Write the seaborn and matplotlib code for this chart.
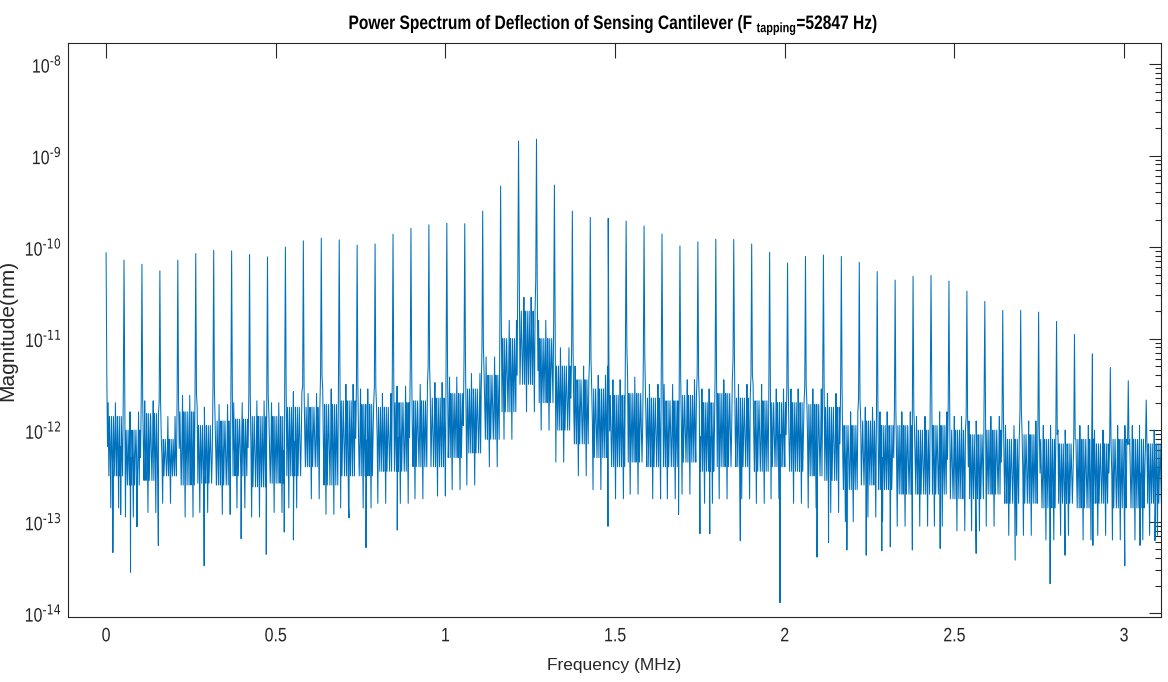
import numpy as np
import pandas as pd
import matplotlib
matplotlib.use("Agg")
import matplotlib.pyplot as plt
import seaborn as sns
from matplotlib.patheffects import AbstractPathEffect
from matplotlib.transforms import Affine2D
from matplotlib.ticker import FuncFormatter

# tapping frequency (MHz), harmonics k * f_tap
f_tap = 0.052847

# peak height of each harmonic k = 0..58 (nm)
peak_mag = [8.7e-11, 7.2e-11, 6.5e-11, 5.5e-11, 7.2e-11, 8.5e-11, 9.2e-11, 9.1e-11, 8.3e-11, 7.8e-11,
            1.0e-10, 1.17e-10, 1.25e-10, 1.2e-10, 1.05e-10, 1.08e-10, 1.38e-10, 1.6e-10, 1.75e-10, 1.82e-10,
            1.8e-10, 2.47e-10, 4.65e-10, 1.44e-9, 1.51e-9, 4.76e-10, 2.47e-10, 2.11e-10, 2.06e-10, 1.92e-10,
            1.7e-10, 1.39e-10, 1.03e-10, 1.14e-10, 1.22e-10, 1.21e-10, 1.08e-10, 8.8e-11, 6.7e-11, 7.9e-11,
            8.2e-11, 7.9e-11, 6.8e-11, 5.4e-11, 4.36e-11, 4.8e-11, 4.9e-11, 4.25e-11, 3.3e-11, 2.55e-11,
            2.03e-11, 2.03e-11, 1.95e-11, 1.54e-11, 1.11e-11, 6.8e-12, 4.84e-12, 3.46e-12, 2.13e-12]

# level at the foot of each harmonic peak
skirt_mag = [3.9e-12, 2.5e-12, 2.2e-12, 2.0e-12, 2.2e-12, 2.5e-12, 2.8e-12, 2.6e-12, 2.4e-12, 2.4e-12,
             3.0e-12, 3.0e-12, 4.0e-12, 4.0e-12, 3.0e-12, 3.0e-12, 4.0e-12, 4.5e-12, 5.0e-12, 5.0e-12,
             6.0e-12, 8.0e-12, 1.5e-11, 5.0e-11, 4.5e-11, 1.6e-11, 8.0e-12, 6.0e-12, 5.0e-12, 8.0e-12,
             6.5e-12, 4.5e-12, 4.0e-12, 4.0e-12, 4.0e-12, 6.0e-12, 4.0e-12, 3.5e-12, 3.0e-12, 3.0e-12,
             3.0e-12, 3.0e-12, 2.2e-12, 1.7e-12, 1.7e-12, 1.7e-12, 2.5e-12, 2.0e-12, 1.4e-12, 1.8e-12,
             1.3e-12, 1.6e-12, 1.0e-12, 9.0e-13, 8.0e-13, 8.0e-13, 7.0e-13, 7.0e-13, 7.0e-13]

# noise floor in each gap between harmonic k and k+1 (log10 of nm)
gap_top = [-11.7, -11.8, -11.68, -11.85, -11.62, -11.75, -11.72, -11.7, -11.68, -11.7,
           -11.58, -11.6, -11.55, -11.5, -11.55, -11.6, -11.52, -11.5, -11.48, -11.42,
           -11.38, -11.2, -10.8, -10.55, -10.8, -11.1, -11.3, -11.4, -11.45, -11.42,
           -11.5, -11.5, -11.45, -11.55, -11.45, -11.5, -11.5, -11.55, -11.55, -11.55,
           -11.6, -11.8, -11.75, -11.8, -11.8, -11.85, -11.8, -11.85, -11.9, -11.85,
           -11.95, -11.9, -11.95, -12.0, -11.95, -12.0, -11.95, -11.95, -12.0]
gap_hi = [-11.85, -12.0, -11.82, -12.1, -11.8, -11.95, -11.9, -11.88, -11.85, -11.85,
          -11.75, -11.75, -11.72, -11.68, -11.72, -11.75, -11.7, -11.68, -11.65, -11.6,
          -11.55, -11.4, -11.0, -10.7, -11.0, -11.3, -11.45, -11.55, -11.62, -11.6,
          -11.65, -11.68, -11.62, -11.7, -11.6, -11.65, -11.68, -11.7, -11.7, -11.72,
          -11.75, -11.95, -11.9, -11.95, -11.95, -12.0, -11.95, -12.0, -12.05, -12.0,
          -12.1, -12.05, -12.1, -12.15, -12.1, -12.15, -12.1, -12.1, -12.15]
gap_mid = [-12.18, -12.3, -12.19, -12.3, -12.2, -12.27, -12.25, -12.19, -12.24, -12.22,
           -12.12, -12.08, -12.16, -12.09, -12.11, -12.1, -12.08, -12.04, -12.02, -11.95,
           -11.9, -11.75, -11.4, -11.1, -11.35, -11.65, -11.8, -11.92, -12.01, -11.98,
           -12.02, -12.04, -11.98, -12.07, -12.0, -12.02, -12.06, -12.05, -12.07, -12.11,
           -12.15, -12.3, -12.25, -12.3, -12.32, -12.35, -12.32, -12.37, -12.4, -12.35,
           -12.45, -12.42, -12.47, -12.47, -12.47, -12.47, -12.47, -12.47, -12.47]
gap_lo = [-12.5, -12.6, -12.55, -12.5, -12.6, -12.58, -12.6, -12.5, -12.62, -12.58,
          -12.5, -12.4, -12.6, -12.5, -12.5, -12.45, -12.45, -12.4, -12.4, -12.3,
          -12.25, -12.1, -11.8, -11.5, -11.7, -12.0, -12.15, -12.3, -12.4, -12.35,
          -12.4, -12.4, -12.35, -12.45, -12.4, -12.4, -12.45, -12.4, -12.45, -12.5,
          -12.55, -12.65, -12.6, -12.65, -12.7, -12.7, -12.7, -12.75, -12.75, -12.7,
          -12.8, -12.8, -12.85, -12.8, -12.85, -12.8, -12.85, -12.85, -12.8]
gap_bot = [-12.85, -12.95, -12.9, -12.8, -12.95, -12.9, -12.92, -12.85, -12.95, -12.9,
           -12.85, -12.75, -12.92, -12.85, -12.85, -12.8, -12.8, -12.75, -12.72, -12.65,
           -12.6, -12.4, -12.1, -11.8, -12.0, -12.35, -12.5, -12.65, -12.75, -12.7,
           -12.75, -12.75, -12.7, -12.8, -12.75, -12.75, -12.8, -12.75, -12.8, -12.85,
           -12.9, -13.0, -12.95, -13.0, -13.05, -13.05, -13.05, -13.1, -13.1, -13.05,
           -13.15, -13.15, -13.2, -13.15, -13.2, -13.15, -13.2, -13.2, -13.15]

# deep downward spikes
dip_freq = [0.020, 0.043, 0.072, 0.091, 0.154, 0.289, 0.398, 0.472, 0.525, 0.552, 0.716, 0.766, 0.858,
            1.479, 1.687, 1.750, 1.779, 1.869, 1.986, 2.095, 2.129, 2.183, 2.240, 2.286, 2.311,
            2.376, 2.458, 2.564, 2.679, 2.782, 2.826, 2.908, 3.002, 3.047, 3.091]
dip_mag = [4.6e-14, 1.2e-13, 2.8e-14, 8.8e-14, 5.5e-14, 3.3e-14, 6.5e-14, 4.4e-14, 7.7e-14, 6.3e-14, 1.1e-13, 5.2e-14, 8.1e-14,
           8.9e-14, 1.2e-13, 7.4e-14, 7.4e-14, 6.2e-14, 1.3e-14, 4.1e-14, 5.9e-14, 4.9e-14, 4.3e-14, 4.8e-14, 5.3e-14,
           4.9e-14, 5.1e-14, 4.5e-14, 3.8e-14, 2.1e-14, 4.3e-14, 5.5e-14, 3.3e-14, 5.5e-14, 6.2e-14]

# build the trace: peak, foot, the gap's noise levels in turn, foot, next peak
visit = ["mid", "top", "lo", "hi", "mid", "bot", "hi", "mid", "lo", "hi", "mid", "lo",
         "top", "mid", "lo", "hi", "mid", "bot", "hi", "lo", "mid", "hi", "mid", "lo"]
levels = {"top": gap_top, "hi": gap_hi, "mid": gap_mid, "lo": gap_lo, "bot": gap_bot}
freq, mag = [], []
for k in range(len(peak_mag)):
    fk = k * f_tap
    freq.append(fk)
    mag.append(peak_mag[k])
    freq.append(fk + 0.04 * f_tap)
    mag.append(skirt_mag[k])
    n = len(visit)
    for i in range(n):
        name = visit[(i + 5 * k) % n]
        freq.append(fk + (0.08 + i * 0.84 / (n - 1)) * f_tap)
        mag.append(10 ** levels[name][k])
    if k + 1 < len(peak_mag):
        freq.append(fk + 0.96 * f_tap)
        mag.append(skirt_mag[k + 1])
freq += dip_freq
mag += dip_mag
df = pd.DataFrame({"freq": freq, "mag": mag}).sort_values("freq")


class Narrow(AbstractPathEffect):
    # squeeze glyphs horizontally, like the condensed Helvetica of the original
    def __init__(self, sx=0.8, anchor="center"):
        super().__init__()
        self.sx = sx
        self.anchor = anchor

    def draw_path(self, renderer, gc, tpath, affine, rgbFace=None):
        ext = tpath.get_extents()
        cx = ext.x1 if self.anchor == "right" else 0.5 * (ext.x0 + ext.x1)
        squeeze = Affine2D().translate(-cx, 0).scale(self.sx, 1).translate(cx, 0)
        renderer.draw_path(gc, tpath, squeeze + affine, rgbFace)


sns.set_style("white")
plt.rcParams["font.family"] = ["Liberation Sans", "DejaVu Sans"]

fig = plt.figure(figsize=(11.68, 6.82), dpi=100)
ax = fig.add_axes([0.058, 0.095, 0.9358, 0.842])

sns.lineplot(data=df, x="freq", y="mag", ax=ax, color="#0072BD", linewidth=0.75,
             estimator=None, sort=False)
ax.set_yscale("log")
ax.set_xlim(-0.113, 3.108)
ax.set_ylim(10 ** -14.044, 10 ** -7.77)

ax.set_xticks([0, 0.5, 1, 1.5, 2, 2.5, 3])
ax.set_xticklabels(["0", "0.5", "1", "1.5", "2", "2.5", "3"])
ax.set_yticks([1e-14, 1e-13, 1e-12, 1e-11, 1e-10, 1e-9, 1e-8])
ax.yaxis.set_major_formatter(FuncFormatter(
    lambda v, pos: r"$\mathregular{10^{\text{-%d}}}$" % round(-np.log10(v))))

gray = "#262626"
ax.tick_params(which="both", direction="in", top=True, right=True, colors=gray,
               labelcolor=gray, labelsize=14, width=0.8)
ax.tick_params(axis="x", which="major", length=11, pad=8)
ax.tick_params(axis="y", which="major", length=8.5, pad=4)
ax.tick_params(axis="y", which="minor", length=4.3)
for s in ax.spines.values():
    s.set_color(gray)
    s.set_linewidth(0.8)
for t in ax.get_xticklabels():
    t.set_path_effects([Narrow(0.82)])
for t in ax.get_yticklabels():
    t.set_path_effects([Narrow(0.82, "right")])

ax.set_xlabel("Frequency (MHz)", fontsize=12.5, color=gray, labelpad=9)
ax.set_ylabel("Magnitude(nm)", fontsize=15, color=gray)
ax.yaxis.set_label_coords(-0.046, 0.5)
title = ax.set_title(r"Power Spectrum of Deflection of Sensing Cantilever (F $_{\mathregular{tapping}}$=52847 Hz)",
                     fontsize=14, fontweight="bold", color="black", pad=10)
title.set_path_effects([Narrow(0.8)])

fig.savefig("out.png", dpi=100)
